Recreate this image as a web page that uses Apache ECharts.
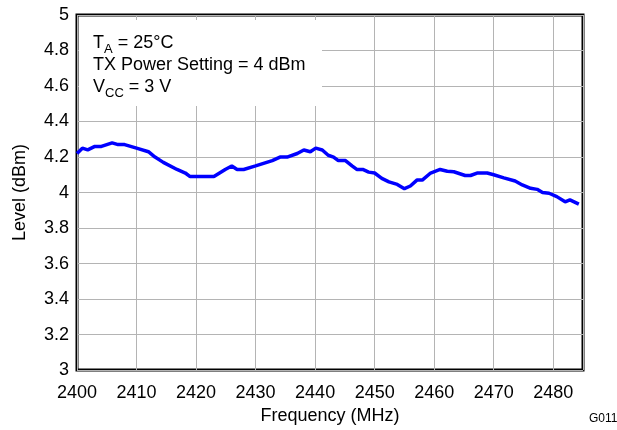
<!DOCTYPE html>
<html><head><meta charset="utf-8">
<script src="https://cdn.jsdelivr.net/npm/echarts@6/dist/echarts.min.js"></script>
<style>html,body{margin:0;padding:0;background:#fff}#c{width:617px;height:430px}</style>
</head><body><div id="c"></div>
<script>
var frequency = [2400, 2400.9, 2401.8, 2403, 2404.1, 2405.9, 2406.9, 2408, 2410, 2412, 2413.1, 2414.5, 2416.8, 2418.2, 2419, 2423, 2424.9, 2426, 2426.9, 2428, 2430, 2432.8, 2434.1, 2435.3, 2437, 2438.1, 2439.2, 2440.1, 2441.2, 2442.2, 2443.1, 2443.9, 2445.1, 2446.2, 2447, 2448, 2449, 2450, 2451.2, 2452.4, 2453.8, 2455, 2456, 2457.1, 2458, 2459.4, 2461, 2462.2, 2463.3, 2465.2, 2466.1, 2467.2, 2468.9, 2470, 2471.7, 2473.6, 2474.8, 2476.2, 2477.3, 2478.2, 2479.3, 2480.6, 2482, 2482.8, 2484.3];
var level = [4.22, 4.25, 4.24, 4.26, 4.26, 4.28, 4.27, 4.27, 4.25, 4.23, 4.2, 4.17, 4.13, 4.11, 4.09, 4.09, 4.13, 4.15, 4.13, 4.13, 4.15, 4.18, 4.2, 4.2, 4.22, 4.24, 4.23, 4.25, 4.24, 4.21, 4.2, 4.18, 4.18, 4.15, 4.13, 4.13, 4.115, 4.11, 4.08, 4.06, 4.046, 4.022, 4.037, 4.07, 4.07, 4.11, 4.13, 4.12, 4.117, 4.096, 4.096, 4.11, 4.11, 4.1, 4.083, 4.065, 4.043, 4.024, 4.018, 4.0, 3.996, 3.977, 3.948, 3.959, 3.935];
var xTicks = {min: 2400, max: 2485, interval: 10};
var yTicks = {min: 3, max: 5, interval: 0.2};
var xTitle = 'Frequency (MHz)';
var yTitle = 'Level (dBm)';
var figId = 'G011';

var FONT = '"Liberation Sans", Arial, sans-serif';
var chart = echarts.init(document.getElementById('c'), null, {renderer: 'canvas'});
var pts = frequency.map(function (f, i) { return [f, level[i]]; });
chart.setOption({
  animation: false,
  backgroundColor: '#fff',
  grid: {left: 77, right: 34, top: 15, bottom: 57, show: true, borderColor: '#000', borderWidth: 3, backgroundColor: '#fff'},
  xAxis: {
    type: 'value', min: xTicks.min, max: xTicks.max, interval: xTicks.interval,
    name: xTitle, nameLocation: 'middle', nameGap: 36,
    nameTextStyle: {fontFamily: FONT, fontSize: 18, color: '#000'},
    axisLine: {show: false}, axisTick: {show: false},
    axisLabel: {fontFamily: FONT, fontSize: 18, color: '#000', margin: 14,
      formatter: function (v) { return (v % 10 === 0) ? String(v) : ''; }},
    splitLine: {show: true, lineStyle: {color: '#b4b4b4', width: 1}}
  },
  yAxis: {
    type: 'value', min: yTicks.min, max: yTicks.max, interval: yTicks.interval,
    name: yTitle, nameLocation: 'middle', nameGap: 48,
    nameTextStyle: {fontFamily: FONT, fontSize: 18, color: '#000'},
    axisLine: {show: false}, axisTick: {show: false},
    axisLabel: {fontFamily: FONT, fontSize: 18, color: '#000', margin: 8,
      formatter: function (v) { return String(Math.round(v * 10) / 10); }},
    splitLine: {show: true, lineStyle: {color: '#b4b4b4', width: 1}}
  },
  series: [{
    type: 'line', data: pts, showSymbol: false, symbol: 'none',
    lineStyle: {color: '#0000ff', width: 3.5}, z: 3
  }],
  graphic: [
    {type: 'rect', left: 79, top: 20, shape: {width: 243, height: 86}, style: {fill: '#fff'}, z: 10},
    {type: 'text', left: 93, top: 34, z: 11, style: {
      text: '{n|T}{s|A}{n| = 25°C}\n{n|TX Power Setting = 4 dBm}\n{n|V}{s|CC}{n| = 3 V}',
      rich: {
        n: {fontFamily: FONT, fontSize: 18, lineHeight: 22, fill: '#000', verticalAlign: 'bottom'},
        s: {fontFamily: FONT, fontSize: 13, lineHeight: 22, fill: '#000', verticalAlign: 'bottom', padding: [0, 0, -4, 0]}
      }
    }},
    {type: 'text', left: 589, top: 413, z: 11, style: {text: figId, fontFamily: FONT, fontSize: 12, fill: '#000'}}
  ]
});
</script>
</body></html>
